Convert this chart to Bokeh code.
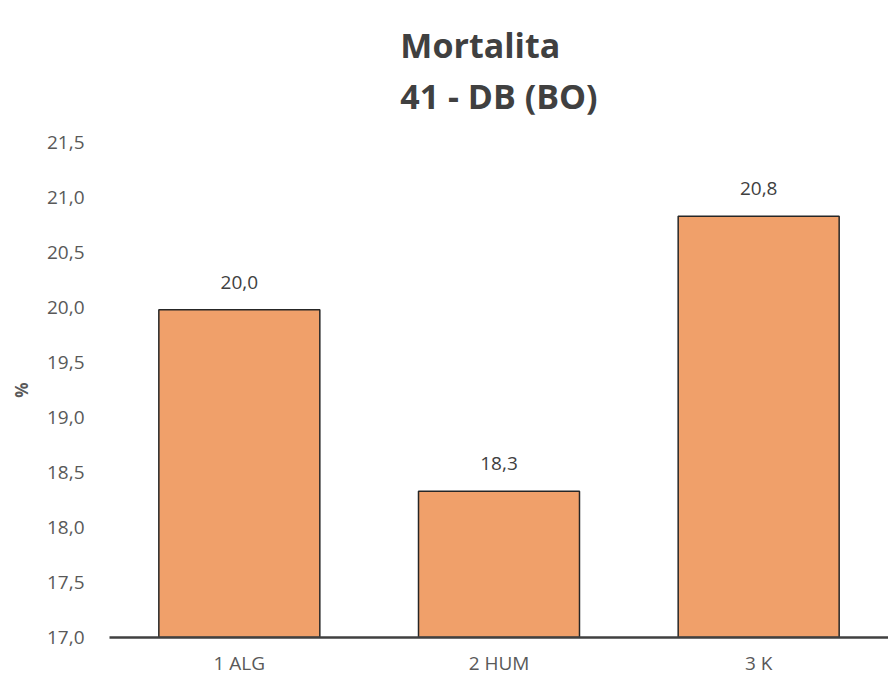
from bokeh.plotting import figure
from bokeh.models import ColumnDataSource, Range1d, FixedTicker, LabelSet, Title
from bokeh.core.properties import value
from bokeh.embed import file_html
from bokeh.resources import INLINE

categories = ["1 ALG", "2 HUM", "3 K"]
values = [19.98, 18.33, 20.83]
value_labels = ["20,0", "18,3", "20,8"]
y_ticks = [17.0, 17.5, 18.0, 18.5, 19.0, 19.5, 20.0, 20.5, 21.0, 21.5]
y_tick_labels = ["17,0", "17,5", "18,0", "18,5", "19,0", "19,5", "20,0", "20,5", "21,0", "21,5"]
title_lines = ["Mortalita", "41 - DB (BO)"]

FONT = "Open Sans"
src = ColumnDataSource(dict(cat=categories, val=values, lab=value_labels))

p = figure(x_range=categories, y_range=Range1d(17.0, 21.5),
           frame_width=779, frame_height=495,
           output_backend="svg", toolbar_location=None,
           min_border_left=109, min_border_right=0, min_border_bottom=0, min_border_top=0)
p.outline_line_color = None
p.xgrid.grid_line_color = None
p.ygrid.grid_line_color = None

p.vbar(x="cat", top="val", bottom=17.0, width=0.62, source=src,
       fill_color="#F0A06A", line_color="#262626", line_width=1.5)

labels = LabelSet(x="cat", y="val", text="lab", source=src, text_align="center",
                  text_baseline="bottom", y_offset=21, text_font=value(FONT),
                  text_font_size="19px", text_color="#404040")
p.add_layout(labels)

p.yaxis.ticker = FixedTicker(ticks=y_ticks)
p.yaxis.major_label_overrides = {t: l for t, l in zip(y_ticks, y_tick_labels)}
p.yaxis.axis_line_color = None
p.yaxis.major_tick_line_color = None
p.yaxis.minor_tick_line_color = None
p.yaxis.major_tick_out = 0
p.yaxis.major_tick_in = 0
p.yaxis.major_label_text_font = FONT
p.yaxis.major_label_text_font_size = "19px"
p.yaxis.major_label_text_color = "#595959"
p.yaxis.major_label_standoff = 25
p.yaxis.axis_label = "%"
p.yaxis.axis_label_text_font = FONT
p.yaxis.axis_label_text_font_size = "17px"
p.yaxis.axis_label_text_font_style = "bold"
p.yaxis.axis_label_text_color = "#595959"
p.yaxis.axis_label_standoff = 11

p.xaxis.axis_line_color = "#404040"
p.xaxis.axis_line_width = 2.5
p.xaxis.major_tick_line_color = None
p.xaxis.minor_tick_line_color = None
p.xaxis.major_tick_out = 0
p.xaxis.major_tick_in = 0
p.xaxis.major_label_text_font = FONT
p.xaxis.major_label_text_font_size = "19px"
p.xaxis.major_label_text_color = "#595959"
p.xaxis.major_label_text_line_height = 1.0
p.xaxis.major_label_standoff = 12

p.add_layout(Title(text="\n".join(title_lines), align="center", vertical_align="top",
                   text_font=FONT, text_font_size="34px", text_font_style="bold",
                   text_line_height=1.12,
                   text_color="#404040", standoff=42), "above")

open("out.html", "w").write(file_html(p, INLINE))
